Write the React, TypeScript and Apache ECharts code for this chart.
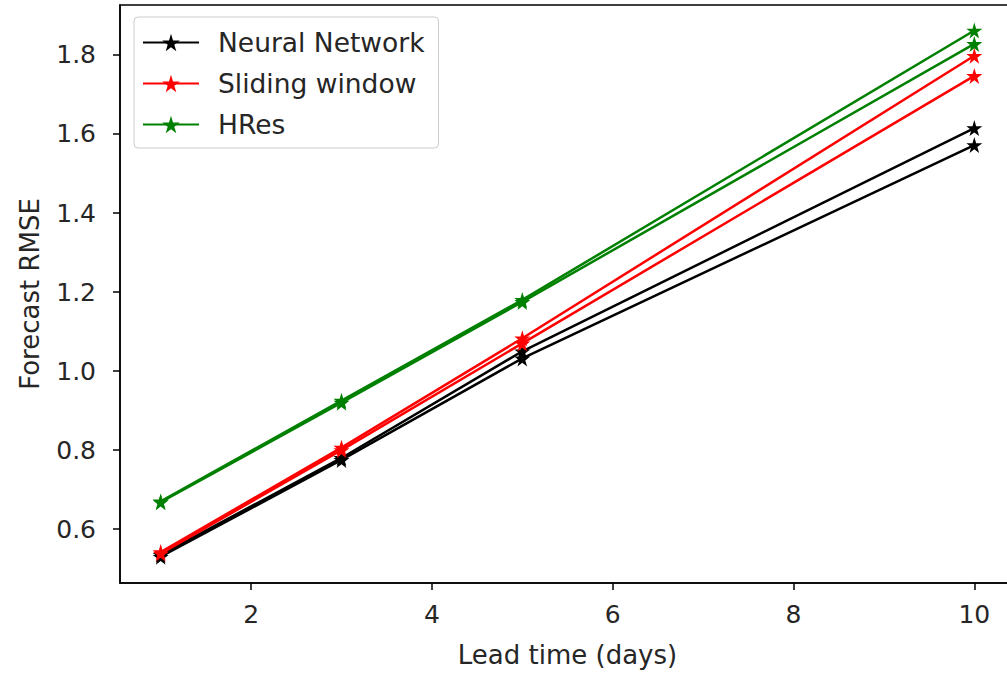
import React, { useEffect, useRef } from "react";
import * as echarts from "echarts";

const leadDays = [1, 3, 5, 10];
const xTicks = [2, 4, 6, 8, 10];
const yTicks = [0.6, 0.8, 1.0, 1.2, 1.4, 1.6, 1.8];

const nnA = [0.535, 0.78, 1.05, 1.615];
const nnB = [0.53, 0.775, 1.032, 1.572];
const swA = [0.542, 0.806, 1.083, 1.798];
const swB = [0.538, 0.8, 1.07, 1.747];
const hrA = [0.67, 0.925, 1.18, 1.862];
const hrB = [0.668, 0.92, 1.175, 1.828];

const seriesDefs = [
  { name: "Neural Network", color: "#000000", data: nnA },
  { name: "Neural Network", color: "#000000", data: nnB },
  { name: "Sliding window", color: "#ff0000", data: swA },
  { name: "Sliding window", color: "#ff0000", data: swB },
  { name: "HRes", color: "#008000", data: hrA },
  { name: "HRes", color: "#008000", data: hrB },
];

const STAR =
  "path://M50,0 L61,35 L98,35 L68,57 L79,91 L50,70 L21,91 L32,57 L2,35 L39,35 Z";

const FONT = "DejaVu Sans";
const TXT = "#262626";

export default function App() {
  const ref = useRef<HTMLDivElement>(null);
  useEffect(() => {
    if (!ref.current) return;
    const chart = echarts.init(ref.current, null, { renderer: "svg" });
    chart.setOption({
      animation: false,
      backgroundColor: "#ffffff",
      grid: {
        left: 120,
        top: 5,
        right: 3,
        bottom: 86,
        show: true,
        borderColor: "#000",
        borderWidth: 1.5,
        containLabel: false,
      },
      legend: {
        orient: "vertical",
        left: 134,
        top: 17,
        padding: [12, 14, 10, 8],
        itemGap: 14,
        itemWidth: 56,
        itemHeight: 22,
        borderColor: "#cccccc",
        borderWidth: 1,
        borderRadius: 4,
        data: ["Neural Network", "Sliding window", "HRes"],
        textStyle: { fontFamily: FONT, fontSize: 26.5, color: TXT, padding: [0, 0, 0, 14] },
      },
      xAxis: {
        type: "value",
        min: 0.55,
        max: 10.45,
        name: "Lead time (days)",
        nameLocation: "middle",
        nameGap: 59,
        nameTextStyle: { fontFamily: FONT, fontSize: 26, color: TXT },
        axisLine: { show: true, lineStyle: { color: "#000", width: 1.5 } },
        axisTick: { show: true, inside: false, length: 7, lineStyle: { color: "#000", width: 1.5 }, customValues: xTicks },
        axisLabel: { fontFamily: FONT, fontSize: 25, color: TXT, margin: 19, customValues: xTicks },
        splitLine: { show: false },
      },
      yAxis: {
        type: "value",
        min: 0.4635,
        max: 1.9265,
        name: "Forecast RMSE",
        nameLocation: "middle",
        nameGap: 77,
        nameTextStyle: { fontFamily: FONT, fontSize: 26, color: TXT },
        axisLine: { show: true, lineStyle: { color: "#000", width: 1.5 } },
        axisTick: { show: true, inside: false, length: 7, lineStyle: { color: "#000", width: 1.5 }, customValues: yTicks },
        axisLabel: {
          fontFamily: FONT,
          fontSize: 25,
          color: TXT,
          margin: 24,
          customValues: yTicks,
          formatter: (v: number) => v.toFixed(1),
        },
        splitLine: { show: false },
      },
      series: seriesDefs.map((s) => ({
        type: "line",
        name: s.name,
        data: leadDays.map((d, i) => [d, s.data[i]]),
        symbol: STAR,
        symbolSize: 16,
        showAllSymbol: true,
        lineStyle: { color: s.color, width: 2.5 },
        itemStyle: { color: s.color },
        color: s.color,
        emphasis: { disabled: true },
      })),
    });
    return () => chart.dispose();
  }, []);
  return (
    <div style={{ position: "fixed", left: 0, top: 0, width: 1007, height: 673, overflow: "hidden", background: "#fff" }}>
      <div ref={ref} style={{ width: 1018, height: 673 }} />
    </div>
  );
}
